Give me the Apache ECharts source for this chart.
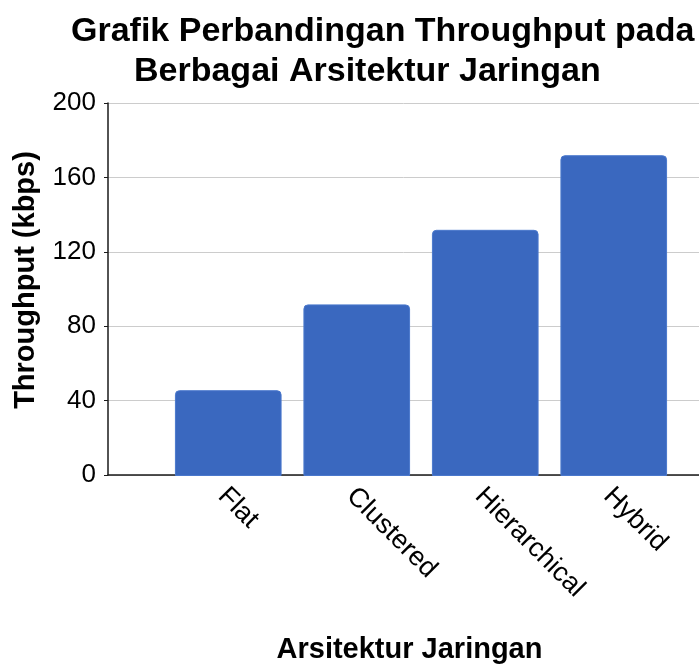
<!DOCTYPE html>
<html>
<head>
<meta charset="utf-8">
<script src="https://cdn.jsdelivr.net/npm/echarts@6/dist/echarts.min.js"></script>
<style>
  html, body { margin: 0; padding: 0; background: #ffffff; }
  #chart { width: 699px; height: 669px; }
</style>
</head>
<body>
<div id="chart"></div>
<script>
// Network architectures and their measured throughput (kbps)
const categories = ['Flat', 'Clustered', 'Hierarchical', 'Hybrid'];
const throughput = [46, 92, 132, 172];
const yTicks = [0, 40, 80, 120, 160, 200];

const titleLines = ['Grafik Perbandingan Throughput pada', 'Berbagai Arsitektur Jaringan'];
const xName = 'Arsitektur Jaringan';
const yName = 'Throughput (kbps)';

const FONT = '"Liberation Sans", Arial, Helvetica, sans-serif';
const yMin = yTicks[0];
const yMax = yTicks[yTicks.length - 1];
const yStep = yTicks[1] - yTicks[0];

const chart = echarts.init(document.getElementById('chart'), null, { renderer: 'canvas' });

chart.setOption({
  backgroundColor: '#ffffff',
  animation: false,
  textStyle: { fontFamily: FONT },
  title: [
    {
      text: titleLines[0], left: 66, top: 10,
      textStyle: { fontFamily: FONT, fontSize: 34, fontWeight: 'bold', color: '#000' }
    },
    {
      text: titleLines[1], left: 129, top: 50,
      textStyle: { fontFamily: FONT, fontSize: 34, fontWeight: 'bold', color: '#000' }
    }
  ],
  grid: [
    // frame: axis lines, grid lines, tick labels
    { left: 108, right: 0, top: 103, bottom: 193, containLabel: false },
    // bar area
    { left: 164, right: 21, top: 103, bottom: 193, containLabel: false }
  ],
  xAxis: [
    {
      gridIndex: 0, type: 'category', data: categories,
      axisLine: { show: true, lineStyle: { color: '#1a1a1a', width: 1.5 } },
      axisTick: { show: false },
      axisLabel: { show: false },
      splitLine: { show: false },
      name: xName, nameLocation: 'middle', nameGap: 160,
      nameTextStyle: {
        fontFamily: FONT, fontSize: 29, fontWeight: 'bold', color: '#000',
        padding: [0, 0, 0, 12]
      }
    },
    {
      gridIndex: 1, type: 'category', data: categories,
      axisLine: { show: false },
      axisTick: { show: false },
      axisLabel: {
        rotate: -45, margin: 10, interval: 0,
        verticalAlign: 'top', lineHeight: 17,
        fontFamily: FONT, fontSize: 27, color: '#000'
      },
      splitLine: { show: false }
    }
  ],
  yAxis: [
    {
      gridIndex: 0, type: 'value', min: yMin, max: yMax, interval: yStep,
      axisLine: { show: true, lineStyle: { color: '#1a1a1a', width: 1.5 } },
      axisTick: { show: true, length: 4, lineStyle: { color: '#1a1a1a' } },
      axisLabel: { margin: 12, fontFamily: FONT, fontSize: 26, color: '#000' },
      splitLine: { show: true, lineStyle: { color: '#cccccc', width: 1 } },
      name: yName, nameLocation: 'middle', nameRotate: 90, nameGap: 68,
      nameTextStyle: {
        fontFamily: FONT, fontSize: 29, fontWeight: 'bold', color: '#000',
        padding: [0, 0, 0, 18]
      }
    },
    {
      gridIndex: 1, type: 'value', min: yMin, max: yMax, interval: yStep,
      show: false, splitLine: { show: false }
    }
  ],
  series: [
    {
      type: 'bar', xAxisIndex: 1, yAxisIndex: 1,
      data: throughput,
      barCategoryGap: '17%',
      itemStyle: {
        color: '#3a68bf',
        borderColor: '#4a78cc',
        borderWidth: 1,
        borderRadius: [4, 4, 0, 0]
      }
    }
  ]
});
</script>
</body>
</html>
